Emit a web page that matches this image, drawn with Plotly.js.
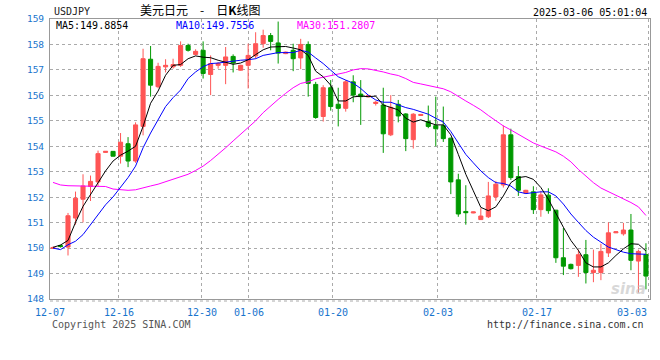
<!DOCTYPE html>
<html>
<head>
<meta charset="utf-8">
<script src="https://cdn.plot.ly/plotly-3.0.1.min.js"></script>
<style>html,body{margin:0;padding:0;background:#fff;}#chart{width:660px;height:360px;}</style>
</head>
<body>
<div id="chart"></div>
<script>
// ---- data (USDJPY daily K) ----
const openP = [149.99,150.10,150.04,151.18,151.92,152.42,152.60,153.76,153.80,153.61,
  154.10,153.42,154.78,157.42,156.34,157.12,157.12,157.18,157.96,157.61,
  157.77,156.82,157.18,157.18,157.53,156.99,157.18,157.55,158.03,158.35,
  158.06,157.64,157.77,157.47,158.00,156.43,155.17,156.30,155.65,155.49,
  156.53,156.05,155.94,155.68,155.62,154.45,155.65,155.27,154.26,155.21,
  154.97,154.81,154.81,154.32,152.68,151.44,151.38,151.12,151.23,152.01,
  152.48,154.45,152.81,152.16,152.21,151.51,152.08,151.49,149.62,149.36,
  149.32,149.74,149.04,149.04,149.81,150.60,150.56,150.71,149.49,149.75];
const highP = [150.06,150.13,151.38,152.22,152.90,152.85,153.83,153.81,153.81,154.52,
  154.36,154.94,157.83,157.94,157.28,157.42,157.44,158.12,158.03,157.81,
  158.12,157.57,157.31,157.90,157.61,157.20,158.03,158.48,158.58,158.45,
  158.90,157.72,158.03,158.22,158.12,156.53,156.40,156.60,156.30,156.60,
  156.79,156.60,156.00,155.78,156.30,156.01,155.82,155.30,155.30,155.26,
  155.60,155.95,155.56,154.33,152.92,152.47,151.43,151.57,152.60,152.64,
  154.82,154.69,153.22,152.29,152.43,152.25,152.35,151.50,150.79,149.39,
  149.94,150.32,149.94,150.17,151.01,150.65,150.99,151.34,149.94,150.19];
const lowP = [149.97,150.02,149.71,150.92,151.01,151.85,152.44,153.75,153.60,153.32,
  153.18,153.35,154.43,155.95,156.28,156.90,157.05,157.12,157.72,157.57,
  156.66,156.01,157.05,156.44,156.90,156.97,156.27,157.44,157.87,157.77,
  157.25,157.62,156.95,157.03,155.95,155.08,154.97,155.40,154.78,155.36,
  155.73,154.84,155.93,155.60,153.74,154.40,154.94,153.81,153.91,155.20,
  154.71,154.00,154.17,152.12,151.23,150.92,151.37,151.11,151.18,151.86,
  152.38,152.68,152.05,152.14,151.34,151.23,151.35,149.42,148.94,149.16,
  148.87,148.61,148.66,148.74,149.65,150.59,150.49,149.13,148.25,148.38];
const closeP = [150.02,150.06,151.27,151.96,152.44,152.62,153.71,153.80,153.61,154.16,
  153.42,154.84,157.44,156.40,157.14,157.18,157.21,157.96,157.77,157.73,
  156.86,157.25,157.25,157.51,157.27,157.18,157.57,158.03,158.35,158.12,
  157.66,157.70,157.44,158.00,156.47,155.13,156.30,155.56,155.49,156.53,
  156.01,155.95,155.99,155.73,154.49,155.53,155.19,154.30,155.26,155.25,
  154.78,154.69,154.30,152.60,151.34,151.39,151.42,151.26,152.05,152.51,
  154.45,152.77,152.27,152.27,151.51,152.09,151.47,149.62,149.29,149.19,
  149.74,149.04,149.13,149.87,150.60,150.64,150.71,149.52,149.87,148.90];
const ma5 = [150.03,150.12,150.30,151.01,151.64,152.12,152.57,153.03,153.42,153.65,
  153.81,154.00,154.78,155.69,156.17,156.79,157.18,157.21,157.44,157.55,
  157.50,157.48,157.38,157.31,157.22,157.27,157.40,157.60,157.79,157.90,
  157.92,157.92,157.86,157.79,157.57,156.95,156.73,156.40,155.78,155.78,
  155.94,155.97,155.95,155.97,155.62,155.52,155.43,155.10,154.95,155.04,
  154.94,154.84,154.84,154.45,153.68,152.90,152.25,151.60,151.47,151.62,
  152.05,152.57,152.77,152.81,152.70,152.38,151.92,151.34,150.82,150.30,
  149.91,149.42,149.26,149.26,149.42,149.71,149.97,150.17,150.15,149.8854];
const ma10 = [150.00,149.94,150.13,150.27,150.53,150.92,151.34,151.70,152.01,152.38,
  152.77,153.22,153.94,154.52,155.04,155.56,155.91,156.21,156.66,156.92,
  157.13,157.25,157.27,157.31,157.35,157.38,157.40,157.44,157.57,157.64,
  157.68,157.68,157.68,157.77,157.70,157.47,157.25,156.99,156.73,156.60,
  156.48,156.27,156.01,155.82,155.73,155.73,155.62,155.52,155.45,155.36,
  155.26,155.10,154.95,154.58,154.13,153.68,153.35,153.03,152.77,152.57,
  152.54,152.44,152.21,152.14,152.18,152.21,152.21,152.05,151.73,151.34,
  151.01,150.69,150.43,150.23,150.04,149.94,149.84,149.78,149.78,149.7556];
const ma30 = [152.58,152.48,152.45,152.44,152.44,152.44,152.44,152.42,152.32,152.29,
  152.27,152.29,152.38,152.44,152.51,152.61,152.71,152.81,152.90,153.05,
  153.22,153.44,153.68,153.94,154.21,154.48,154.75,155.00,155.32,155.60,
  155.84,156.08,156.30,156.47,156.53,156.65,156.71,156.79,156.83,156.90,
  157.00,157.05,157.04,156.99,156.92,156.84,156.78,156.66,156.51,156.45,
  156.38,156.31,156.26,156.14,155.95,155.78,155.61,155.43,155.21,155.00,
  154.80,154.64,154.48,154.30,154.13,154.01,153.91,153.78,153.61,153.39,
  153.09,152.83,152.57,152.36,152.22,152.08,151.95,151.79,151.62,151.2807];
const dateLabels = ['12-07','12-16','12-30','01-06','01-20','02-03','02-17','03-03'];
const yTicks = [148,149,150,151,152,153,154,155,156,157,158,159];

// ---- layout helpers (axis positions, in bar-index units) ----
const labelPos = [-0.4, 8.75, 19.82, 26.07, 37.30, 51.29, 64.48, 79.4];
const gridPos = labelPos.slice(1);
const idx = openP.map((_, i) => i);

const mono = 'DejaVu Sans Mono, monospace';
const blue = '#1874cd';

const traces = [
  {type:'candlestick', x: idx, open: openP, high: highP, low: lowP, close: closeP,
   increasing:{line:{color:'#ff5555', width:1}, fillcolor:'#ff5555'},
   decreasing:{line:{color:'#009900', width:1}, fillcolor:'#009900'},
   whiskerwidth:0, hoverinfo:'skip', showlegend:false},
  {type:'scatter', mode:'lines', x: idx, y: ma30, line:{color:'#ff00ff', width:1}, hoverinfo:'skip'},
  {type:'scatter', mode:'lines', x: idx, y: ma10, line:{color:'#0000ff', width:1}, hoverinfo:'skip'},
  {type:'scatter', mode:'lines', x: idx, y: ma5, line:{color:'#000000', width:1}, hoverinfo:'skip'}
];

const PL = 50, PT = 19, PW = 600, PH = 280;
const px = x => (x - PL) / PW;
const py = y => (PT + PH - y) / PH;

const annotations = [];
dateLabels.forEach((t, i) => {
  annotations.push({xref:'x', yref:'paper', x: labelPos[i], y: py(312),
    xanchor: i === dateLabels.length - 1 ? 'right' : 'center', yanchor:'middle',
    text: t, showarrow:false, font:{family: mono, size:10, color: blue}});
});
const n = ma5.length - 1;
annotations.push(
  {xref:'paper', yref:'paper', x: px(52), y: py(11), xanchor:'left', yanchor:'middle',
   text:'USDJPY', showarrow:false, font:{family: mono, size:10, color:'#222'}},
  {xref:'paper', yref:'paper', x: px(200), y: py(10), xanchor:'center', yanchor:'middle',
   text:'美元日元\u2003-\u2003日<b>K</b>线图', showarrow:false,
   font:{family:'Noto Sans CJK SC, sans-serif', size:12, color:'#000'}},
  {xref:'paper', yref:'paper', x: px(649), y: py(12), xanchor:'right', yanchor:'middle',
   text:'2025-03-06 05:01:04', showarrow:false, font:{family: mono, size:10, color:'#000'}},
  {xref:'paper', yref:'paper', x: px(54), y: py(25), xanchor:'left', yanchor:'middle',
   text:'MA5:' + ma5[n].toFixed(4), showarrow:false, font:{family: mono, size:10, color:'#000'}},
  {xref:'paper', yref:'paper', x: px(174), y: py(25), xanchor:'left', yanchor:'middle',
   text:'MA10:' + ma10[n].toFixed(4), showarrow:false, font:{family: mono, size:10, color:'#0000ff'}},
  {xref:'paper', yref:'paper', x: px(295), y: py(25), xanchor:'left', yanchor:'middle',
   text:'MA30:' + ma30[n].toFixed(4), showarrow:false, font:{family: mono, size:10, color:'#ff00ff'}},
  {xref:'paper', yref:'paper', x: px(50), y: py(324), xanchor:'left', yanchor:'middle',
   text:'Copyright 2025 SINA.COM', showarrow:false, font:{family: mono, size:10, color:'#555'}},
  {xref:'paper', yref:'paper', x: px(646), y: py(324), xanchor:'right', yanchor:'middle',
   text:'http://finance.sina.com.cn', showarrow:false, font:{family: mono, size:10, color:'#333'}},
  {xref:'paper', yref:'paper', x: px(648), y: py(289), xanchor:'right', yanchor:'middle',
   text:'<b><i>sina</i></b>', showarrow:false, font:{family:'DejaVu Sans, sans-serif', size:15, color:'rgba(190,190,190,0.6)'}}
);

const layout = {
  width:660, height:360,
  margin:{l:PL, r:660-PL-PW, t:PT, b:360-PT-PH, pad:0},
  paper_bgcolor:'#ffffff', plot_bgcolor:'#ffffff',
  showlegend:false, boxgap:0.22, hovermode:false,
  xaxis:{range:[-0.4, 79.54], tickmode:'array', tickvals: gridPos, showticklabels:false,
    showgrid:true, gridcolor:'#aaaaaa', griddash:'dot', gridwidth:1, zeroline:false,
    showline:true, mirror:true, linecolor:'#999999', linewidth:1, ticks:'',
    rangeslider:{visible:false}, fixedrange:true},
  yaxis:{range:[148,159], tickmode:'array', tickvals: yTicks, ticktext: yTicks.map(String),
    showgrid:true, gridcolor:'#aaaaaa', griddash:'dot', gridwidth:1, zeroline:false,
    showline:true, mirror:true, linecolor:'#999999', linewidth:1, ticks:'',
    tickfont:{family: mono, size:9.5, color: blue}, ticklabelstandoff:3, fixedrange:true},
  shapes:[{type:'line', xref:'paper', yref:'paper', x0:0, x1:1, y0: py(301), y1: py(301),
    line:{color:'#aaaaaa', width:1, dash:'dot'}}],
  annotations: annotations
};

Plotly.newPlot('chart', traces, layout, {displayModeBar:false, staticPlot:true});
</script>
</body>
</html>
